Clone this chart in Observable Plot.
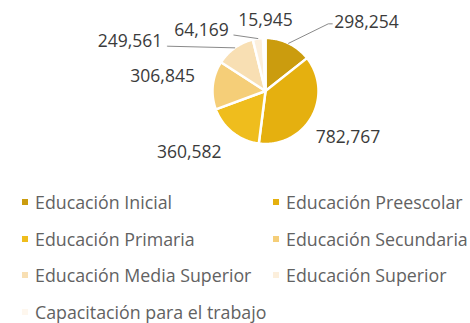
<!DOCTYPE html>
<html><head><meta charset="utf-8">
<script src="https://cdn.jsdelivr.net/npm/d3@7"></script>
<script src="https://cdn.jsdelivr.net/npm/@observablehq/plot@0.6"></script>
<style>
body{margin:0;background:#fff;width:470px;height:323px;overflow:hidden;font-family:'Open Sans',sans-serif;}
#legend{display:grid;grid-template-columns:251px 197px;padding-left:22px;}
.item{height:36.6px;display:flex;align-items:center;font-size:17.8px;color:#626262;white-space:nowrap;}
.sw{width:6px;height:6px;margin-right:7px;flex:none;}
</style></head><body><div id="chart"></div><div id="legend"></div>
<script>
// ---- data ----
const categories = ["Educación Inicial","Educación Preescolar","Educación Primaria","Educación Secundaria","Educación Media Superior","Educación Superior","Capacitación para el trabajo"];
const values = [298254, 782767, 360582, 306845, 249561, 64169, 15945];
const colors = ["#cb9c0e","#e5b00f","#efbd1d","#f5ce78","#f8dfb3","#fcefdc","#fef7ee"];
// ---- label layout: [angle in degrees clockwise from 12 o'clock, distance in pie radii] ----
const labelPolar = [[56,2.30],[119.6,1.79],[231,1.85],[278,1.96],[290,2.72],[313.4,1.66],[0,1.33]];
const leaderSlices = ["Educación Inicial","Educación Media Superior","Educación Superior"];

const W = 470, H = 184, CX = 265, CY = 90.5, R = 53;
const FONT = "17.5px 'Open Sans'";
const fmt = d3.format(",");

const rows = categories.map((name, i) => ({name, value: values[i]}));
const arcs = d3.pie().sort(null).value(d => d.value)(rows);

const slicePts = arcs.flatMap(a => {
  const pts = [{name: a.data.name, x: 0, y: 0}];
  const n = Math.max(2, Math.ceil((a.endAngle - a.startAngle) / (Math.PI / 180)));
  for (let k = 0; k <= n; k++) {
    const t = a.startAngle + (a.endAngle - a.startAngle) * k / n;
    pts.push({name: a.data.name, x: Math.sin(t), y: Math.cos(t)});
  }
  pts.push({name: a.data.name, x: 0, y: 0});
  return pts;
});

const ctx = document.createElement("canvas").getContext("2d");
ctx.font = FONT;

const labels = arcs.map((a, i) => {
  const t = labelPolar[i][0] * Math.PI / 180, d = labelPolar[i][1];
  const text = fmt(a.data.value);
  return {name: a.data.name, text, x: d * Math.sin(t), y: d * Math.cos(t), w: ctx.measureText(text).width, mid: (a.startAngle + a.endAngle) / 2};
});

const toUnit = (px, py) => ({x: (px - CX) / R, y: (CY - py) / R});
const leaders = labels.filter(l => leaderSlices.includes(l.name)).flatMap(l => {
  const lx = CX + l.x * R, ly = CY - l.y * R;
  const p0 = {x: Math.sin(l.mid), y: Math.cos(l.mid)};
  let p1, p2;
  if (lx > CX) {
    p2 = toUnit(lx - l.w / 2 - 2, ly + 1);
    p1 = toUnit(lx - l.w / 2 - 6, ly + 1);
  } else {
    p1 = p2 = toUnit(lx + l.w / 2 + 5, ly + 4.5);
  }
  return [p0, p1, p2].map(p => ({...p, name: l.name}));
});

const chart = Plot.plot({
  width: W, height: H,
  x: {domain: [-1, 1], range: [CX - R, CX + R], axis: null},
  y: {domain: [-1, 1], range: [CY + R, CY - R], axis: null},
  color: {type: "ordinal", domain: categories, range: colors},
  marks: [
    Plot.line(slicePts, {x: "x", y: "y", z: "name", fill: "name", stroke: "white", strokeWidth: 2.5, strokeLinejoin: "round"}),
    Plot.line(leaders, {x: "x", y: "y", z: "name", stroke: "#8a8a8a", strokeWidth: 1}),
    Plot.text(labels, {x: "x", y: "y", text: "text", fontSize: 17.5, fill: "#3b3b3b", fontFamily: "Open Sans"})
  ]
});
document.getElementById("chart").append(chart);

const cs = chart.scale("color");
const colorOf = name => cs.range[cs.domain.indexOf(name)];
const legend = d3.select("#legend");
categories.forEach(name => {
  const it = legend.append("div").attr("class", "item");
  it.append("span").attr("class", "sw").style("background", colorOf(name));
  it.append("span").text(name);
});
</script></body></html>
